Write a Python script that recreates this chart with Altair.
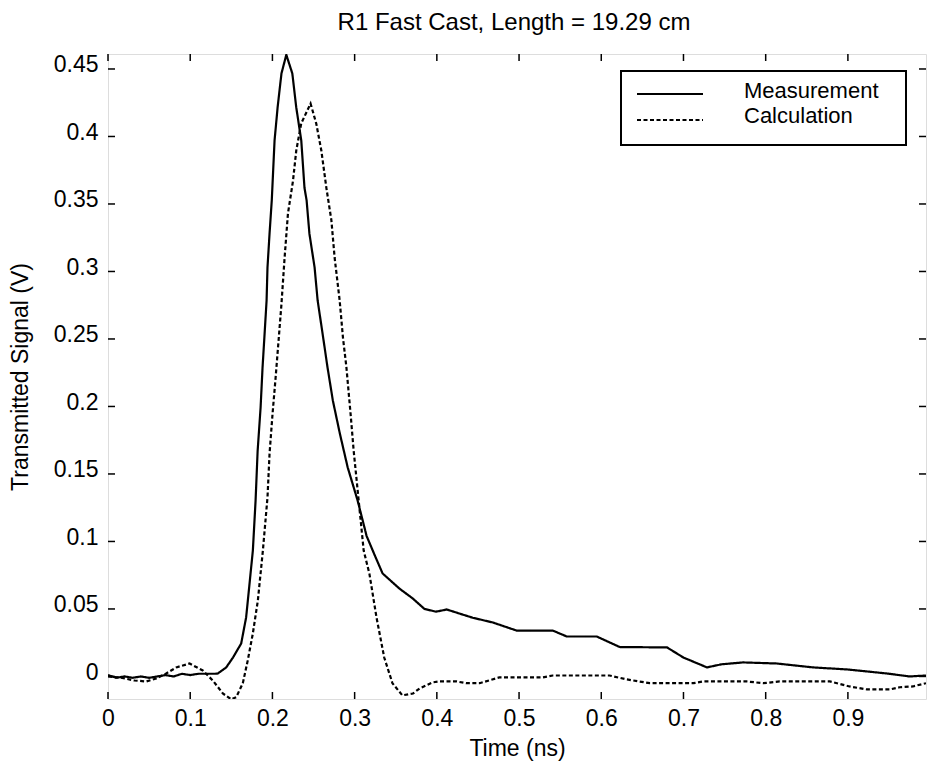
import altair as alt
import pandas as pd

# ---- data ----
meas_t = [0.000, 0.010, 0.020, 0.030, 0.040, 0.050, 0.060, 0.070, 0.080, 0.090,
          0.100, 0.110, 0.120, 0.130, 0.1336, 0.1438, 0.152, 0.162, 0.168, 0.1722,
          0.1762, 0.1795, 0.182, 0.1856, 0.188, 0.1905, 0.1929, 0.194, 0.1965, 0.1992,
          0.2026, 0.2063, 0.211, 0.2169, 0.2242, 0.229, 0.2351, 0.239, 0.2416, 0.245,
          0.2513, 0.255, 0.261, 0.267, 0.2735, 0.282, 0.2915, 0.3036, 0.3146, 0.3243,
          0.334, 0.3547, 0.3706, 0.385, 0.399, 0.412, 0.4436, 0.468, 0.497, 0.541,
          0.558, 0.5945, 0.6225, 0.68, 0.70, 0.7286, 0.746, 0.7726, 0.8135, 0.8575,
          0.899, 0.9475, 0.975, 0.995]
meas_v = [0.001, -0.001, 0.000, -0.001, 0.000, -0.001, 0.000, 0.001, 0.000, 0.002,
          0.001, 0.002, 0.002, 0.002, 0.0022, 0.0067, 0.014, 0.0244, 0.0437, 0.0689,
          0.0933, 0.130, 0.167, 0.199, 0.229, 0.254, 0.2785, 0.303, 0.328, 0.3526,
          0.397, 0.4215, 0.4467, 0.4605, 0.4467, 0.4215, 0.397, 0.362, 0.3526, 0.328,
          0.303, 0.2785, 0.254, 0.229, 0.2044, 0.180, 0.155, 0.1304, 0.104, 0.090,
          0.0763, 0.065, 0.0578, 0.050, 0.048, 0.0496, 0.0435, 0.040, 0.034, 0.034,
          0.0296, 0.0296, 0.0218, 0.0215, 0.014, 0.0067, 0.009, 0.0104, 0.0096, 0.0067,
          0.0052, 0.0022, 0.000, 0.0007]

calc_t = [0.000, 0.014, 0.0322, 0.0465, 0.0587, 0.0708, 0.083, 0.0992, 0.1153, 0.1275,
          0.1397, 0.150, 0.156, 0.164, 0.170, 0.1762, 0.1823, 0.1884, 0.194, 0.1965,
          0.2002, 0.2039, 0.2075, 0.211, 0.2148, 0.2189, 0.225, 0.229, 0.235, 0.2464,
          0.2533, 0.2595, 0.2656, 0.2717, 0.2757, 0.2818, 0.2858, 0.290, 0.295, 0.2988,
          0.3049, 0.311, 0.318, 0.3266, 0.336, 0.346, 0.358, 0.371, 0.379, 0.395,
          0.403, 0.424, 0.436, 0.452, 0.476, 0.529, 0.541, 0.610, 0.631, 0.659,
          0.712, 0.724, 0.777, 0.797, 0.817, 0.878, 0.902, 0.923, 0.951, 0.963,
          0.979, 0.995]
calc_v = [0.000, -0.0007, -0.003, -0.0037, -0.0015, 0.0022, 0.0067, 0.0096, 0.0044, -0.003,
          -0.0126, -0.017, -0.0153, -0.005, 0.0119, 0.0319, 0.0563, 0.0933, 0.1326, 0.165,
          0.195, 0.2215, 0.249, 0.276, 0.310, 0.343, 0.367, 0.3896, 0.4096, 0.4244,
          0.4096, 0.3896, 0.362, 0.338, 0.310, 0.2785, 0.251, 0.229, 0.195, 0.1674,
          0.1304, 0.0933, 0.076, 0.0437, 0.014, -0.005, -0.014, -0.0126, -0.0089, -0.0044,
          -0.0037, -0.0037, -0.005, -0.005, -0.0007, -0.0007, 0.0007, 0.0007, -0.0022, -0.005,
          -0.005, -0.0037, -0.0037, -0.005, -0.0037, -0.0037, -0.0074, -0.0096, -0.0096, -0.008,
          -0.0074, -0.005]

series_names = ["Measurement", "Calculation"]
x_ticks = [0, 0.1, 0.2, 0.3, 0.4, 0.5, 0.6, 0.7, 0.8, 0.9]
y_ticks = [0, 0.05, 0.1, 0.15, 0.2, 0.25, 0.3, 0.35, 0.4, 0.45]
title_text = "R1 Fast Cast, Length = 19.29 cm"
x_title = "Time (ns)"
y_title = "Transmitted Signal (V)"

# ---- build tables ----
df = pd.concat([
    pd.DataFrame({"t": meas_t, "v": meas_v, "series": series_names[0], "order": range(len(meas_t))}),
    pd.DataFrame({"t": calc_t, "v": calc_v, "series": series_names[1], "order": range(len(calc_t))}),
])
xt = pd.DataFrame({"t": x_ticks})
yt = pd.DataFrame({"v": y_ticks})

W, H = 818, 645
FONT = "Liberation Sans"
FS = 23

xs = alt.Scale(domain=[0, 0.995], nice=False, zero=False)
ys = alt.Scale(domain=[-0.0167, 0.4611], nice=False, zero=False)
x_axis = alt.Axis(values=x_ticks, ticks=False, domain=False, grid=False, title=x_title,
                  labelPadding=8, labelFontSize=FS, labelFont=FONT, labelColor="black",
                  titleFontSize=FS, titleFont=FONT, titleFontWeight="normal", titleColor="black",
                  titleY=56, titleBaseline="alphabetic", labelFlush=False,
                  labelExpr="datum.value == 0 ? '0' : format(datum.value, '.1~f')")
y_axis = alt.Axis(values=y_ticks, ticks=False, domain=False, grid=False, title=y_title,
                  labelPadding=10, labelFontSize=FS, labelFont=FONT, labelColor="black", labelOffset=-4,
                  titleFontSize=FS, titleFont=FONT, titleFontWeight="normal", titleColor="black",
                  titleX=-88, titleBaseline="middle", labelFlush=False,
                  labelExpr="datum.value == 0 ? '0' : format(datum.value, '.2~f')")

def X():
    return alt.X("t:Q", scale=xs, axis=x_axis)

def Y():
    return alt.Y("v:Q", scale=ys, axis=y_axis)

lines = alt.Chart(df).mark_line(color="black", strokeWidth=2.2, clip=True).encode(
    x=X(), y=Y(),
    strokeDash=alt.StrokeDash("series:N", scale=alt.Scale(domain=series_names, range=[[1, 0], [4, 2.5]]), legend=None),
    detail="series:N",
    order="order:Q",
)

tick_len = 7
xb = alt.Chart(xt).mark_rule(color="black", strokeWidth=1.5).encode(x=X(), y=alt.value(H), y2=alt.value(H - tick_len))
xtp = alt.Chart(xt).mark_rule(color="black", strokeWidth=1.5).encode(x=X(), y=alt.value(0), y2=alt.value(tick_len))
yl = alt.Chart(yt).mark_rule(color="black", strokeWidth=1.5).encode(y=Y(), x=alt.value(0), x2=alt.value(tick_len))
yr = alt.Chart(yt).mark_rule(color="black", strokeWidth=1.5).encode(y=Y(), x=alt.value(W), x2=alt.value(W - tick_len))

# legend (box, samples, labels)
leg_df = pd.DataFrame({"label": series_names})
LFS = 22
box = alt.Chart(leg_df.head(1)).mark_rect(fill="white", stroke="black", strokeWidth=2).encode(
    x=alt.value(513), x2=alt.value(798), y=alt.value(17), y2=alt.value(91))
sym1 = alt.Chart(leg_df.head(1)).mark_rule(color="black", strokeWidth=2).encode(
    x=alt.value(529), x2=alt.value(595), y=alt.value(40))
sym2 = alt.Chart(leg_df.tail(1)).mark_rule(color="black", strokeWidth=2, strokeDash=[4, 2.5]).encode(
    x=alt.value(529), x2=alt.value(595), y=alt.value(66))
lab1 = alt.Chart(leg_df.head(1)).mark_text(align="left", baseline="middle", font=FONT, fontSize=LFS, color="black").encode(
    x=alt.value(636), y=alt.value(37), text="label:N")
lab2 = alt.Chart(leg_df.tail(1)).mark_text(align="left", baseline="middle", font=FONT, fontSize=LFS, color="black").encode(
    x=alt.value(636), y=alt.value(62), text="label:N")

# chart title as text placed above the plot
title_df = pd.DataFrame({"label": [title_text]})
title = alt.Chart(title_df).mark_text(align="center", baseline="alphabetic", font=FONT, fontSize=24, color="black").encode(
    x=alt.value(406), y=alt.value(-24), text="label:N")

chart = alt.layer(lines, xb, xtp, yl, yr, box, sym1, sym2, lab1, lab2, title).properties(
    width=W, height=H,
    autosize=alt.AutoSizeParams(type="none"),
    padding={"left": 108, "top": 54, "right": 1, "bottom": 65},
).configure_view(stroke="black", strokeWidth=2).configure(background="white")

chart.save("out.html", embed_options={"renderer": "svg", "actions": False})
